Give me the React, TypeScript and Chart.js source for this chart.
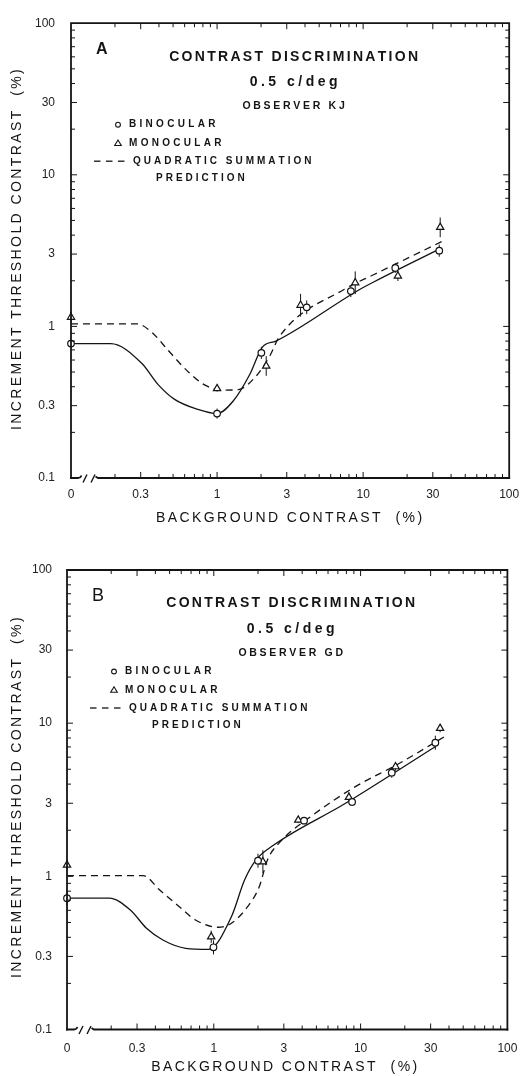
import React, { useEffect, useRef } from "react";
import { Chart, registerables } from "chart.js";

Chart.register(...registerables);

const FONT = "'Liberation Sans', Arial, Helvetica, sans-serif";
const INK = "#141414";

// ---------- axes ----------
const X_MIN = 0.1;
const X_MAX = 100;
const Y_MIN = 0.1;
const Y_MAX = 100;
const X_TICKS = [0.1, 0.3, 1, 3, 10, 30, 100];
const X_TICK_LABELS = ["0", "0.3", "1", "3", "10", "30", "100"];
const Y_TICKS = [0.1, 0.3, 1, 3, 10, 30, 100];
const Y_TICK_LABELS = ["0.1", "0.3", "1", "3", "10", "30", "100"];
const X_TITLE = "BACKGROUND CONTRAST  (%)";
const Y_TITLE = "INCREMENT THRESHOLD CONTRAST  (%)";
// background contrast 0 is plotted at the left edge of the broken log axis
const ZERO_AT = 0.1;

// ---------- panel A : observer KJ ----------
const A_BIN_X = [0, 1.0, 2.01, 4.11, 8.24, 16.6, 33.2];
const A_BIN_Y = [0.77, 0.266, 0.669, 1.336, 1.71, 2.43, 3.16];
const A_BIN_ERR = [0.026, 0.033, 0.04, 0.045, 0.04, 0.033, 0.04];
const A_MON_X = [0, 1.0, 2.17, 3.73, 8.83, 17.3, 33.7];
const A_MON_Y = [1.15, 0.389, 0.548, 1.38, 1.94, 2.15, 4.5];
const A_MON_ERR = [0.033, 0.02, 0.065, 0.075, 0.075, 0.033, 0.065];
const A_FIT_X = [0, 0.187, 0.305, 0.395, 0.512, 0.734, 1.0, 1.29, 1.67, 2.05, 2.53, 9.16, 11.9, 32.4];
const A_FIT_Y = [0.77, 0.77, 0.571, 0.413, 0.33, 0.284, 0.266, 0.322, 0.48, 0.733, 0.8, 1.72, 1.97, 3.2];
const A_PRED_X = [0, 0.283, 0.356, 0.461, 0.63, 0.815, 1.11, 1.4, 1.85, 2.3, 2.66, 7.45, 11.9, 36.5];
const A_PRED_Y = [1.04, 1.04, 0.918, 0.698, 0.505, 0.413, 0.38, 0.383, 0.47, 0.64, 0.851, 1.76, 2.2, 3.72];

// ---------- panel B : observer GD ----------
const B_BIN_X = [0, 0.995, 2.0, 4.12, 8.75, 16.3, 32.3];
const B_BIN_Y = [0.72, 0.344, 1.265, 2.31, 3.06, 4.75, 7.45];
const B_BIN_ERR = [0.046, 0.046, 0.046, 0.02, 0.026, 0.033, 0.046];
const B_MON_X = [0, 0.96, 2.16, 3.76, 8.32, 17.3, 34.8];
const B_MON_Y = [1.186, 0.403, 1.245, 2.33, 3.28, 5.2, 9.25];
const B_MON_ERR = [0.026, 0.04, 0.075, 0.02, 0.033, 0.026, 0.026];
const B_FIT_X = [0, 0.194, 0.27, 0.348, 0.45, 0.644, 0.922, 1.318, 1.62, 1.94, 2.56, 7.9, 32.2];
const B_FIT_Y = [0.72, 0.72, 0.603, 0.458, 0.384, 0.339, 0.334, 0.545, 0.946, 1.28, 1.6, 3.0, 7.02];
const B_PRED_X = [0, 0.331, 0.428, 0.582, 0.75, 1.074, 1.318, 1.7, 2.04, 2.32, 2.8, 4.7, 9.0, 18.4, 37.6];
const B_PRED_Y = [1.01, 1.01, 0.814, 0.634, 0.519, 0.465, 0.494, 0.634, 0.855, 1.28, 1.66, 2.5, 3.8, 5.47, 8.2];

const toAxis = (v: number) => (v === 0 ? ZERO_AT : v);

type Series = { x: number[]; y: number[]; err?: number[] };
type Layout = {
  top: number;
  height: number;
  padTop: number;
  padRight: number;
  yAxisWidth: number;
  xAxisHeight: number;
  xTickPad: number;
  yTickPad: number;
  xTitleDy: number;
  xTitleDx: number;
  yTitleX: number;
  yTitleDy: number;
};
type PanelSpec = {
  letter: string;
  letterFont: string;
  observer: string;
  bin: Series;
  mon: Series;
  fit: Series;
  pred: Series;
  layout: Layout;
};

const PANELS: PanelSpec[] = [
  {
    letter: "A",
    letterFont: `bold 16px ${FONT}`,
    observer: "OBSERVER KJ",
    bin: { x: A_BIN_X, y: A_BIN_Y, err: A_BIN_ERR },
    mon: { x: A_MON_X, y: A_MON_Y, err: A_MON_ERR },
    fit: { x: A_FIT_X, y: A_FIT_Y },
    pred: { x: A_PRED_X, y: A_PRED_Y },
    layout: {
      top: 0,
      height: 538,
      padTop: 17,
      padRight: 11,
      yAxisWidth: 71,
      xAxisHeight: 60,
      xTickPad: 9.8,
      yTickPad: 16,
      xTitleDy: 40,
      xTitleDx: -1,
      yTitleX: 17.5,
      yTitleDy: -1,
    },
  },
  {
    letter: "B",
    letterFont: `18px ${FONT}`,
    observer: "OBSERVER GD",
    bin: { x: B_BIN_X, y: B_BIN_Y, err: B_BIN_ERR },
    mon: { x: B_MON_X, y: B_MON_Y, err: B_MON_ERR },
    fit: { x: B_FIT_X, y: B_FIT_Y },
    pred: { x: B_PRED_X, y: B_PRED_Y },
    layout: {
      top: 538,
      height: 538,
      padTop: 32,
      padRight: 12,
      yAxisWidth: 67,
      xAxisHeight: 46.5,
      xTickPad: 11.6,
      yTickPad: 15,
      xTitleDy: 37.2,
      xTitleDx: -3,
      yTitleX: 17.5,
      yTitleDy: -2,
    },
  },
];

function drawSpaced(
  ctx: CanvasRenderingContext2D,
  text: string,
  x: number,
  y: number,
  sp: number,
  align: "left" | "center" | "right"
) {
  const chars = Array.from(text);
  const widths = chars.map((c) => ctx.measureText(c).width);
  const total = widths.reduce((a, b) => a + b, 0) + sp * (chars.length - 1);
  let cx = align === "center" ? x - total / 2 : align === "right" ? x - total : x;
  ctx.textAlign = "left";
  chars.forEach((c, i) => {
    ctx.fillText(c, cx, y);
    cx += widths[i] + sp;
  });
}

function labelFor(values: number[], labels: string[], v: number) {
  const i = values.findIndex((t) => Math.abs(t - v) < 1e-9 * Math.max(1, t));
  return i >= 0 ? labels[i] : "";
}

// inward frame ticks: 1..9 per decade
const DECADES = [0.1, 1, 10];
const MULTS = [1, 2, 3, 4, 5, 6, 7, 8, 9];

function makeDecor(p: PanelSpec) {
  const L = p.layout;
  return {
    id: "decor" + p.letter,
    beforeDatasetsDraw(chart: any) {
      const ctx: CanvasRenderingContext2D = chart.ctx;
      const xs = chart.scales.x;
      const ys = chart.scales.y;
      ctx.save();
      ctx.strokeStyle = INK;
      ctx.lineWidth = 1;
      for (const s of [p.bin, p.mon]) {
        s.x.forEach((xv, i) => {
          const px = xs.getPixelForValue(toAxis(xv));
          const f = Math.pow(10, (s.err as number[])[i]);
          const y1 = ys.getPixelForValue(s.y[i] * f);
          const y2 = ys.getPixelForValue(s.y[i] / f);
          ctx.beginPath();
          ctx.moveTo(px, y1);
          ctx.lineTo(px, y2);
          ctx.stroke();
        });
      }
      ctx.restore();
    },
    afterDraw(chart: any) {
      const ctx: CanvasRenderingContext2D = chart.ctx;
      const { left, right, top, bottom } = chart.chartArea;
      const xs = chart.scales.x;
      const ys = chart.scales.y;
      ctx.save();
      ctx.strokeStyle = INK;
      ctx.fillStyle = INK;
      ctx.setLineDash([]);

      // frame
      ctx.lineWidth = 1.8;
      ctx.beginPath();
      ctx.moveTo(left, bottom + 0.9);
      ctx.lineTo(left, top);
      ctx.lineTo(right, top);
      ctx.lineTo(right, bottom + 0.9);
      ctx.stroke();
      // bottom axis with break
      ctx.beginPath();
      ctx.moveTo(left - 0.9, bottom);
      ctx.lineTo(left + 7, bottom);
      ctx.quadraticCurveTo(left + 9.5, bottom, left + 10.5, bottom - 2.5);
      ctx.stroke();
      ctx.lineWidth = 1.4;
      for (const dx of [12, 20]) {
        ctx.beginPath();
        ctx.moveTo(left + dx, bottom + 4.5);
        ctx.lineTo(left + dx + 4, bottom - 3.5);
        ctx.stroke();
      }
      ctx.lineWidth = 1.8;
      ctx.beginPath();
      ctx.moveTo(left + 24.5, bottom - 1.5);
      ctx.lineTo(left + 27, bottom);
      ctx.lineTo(right + 0.9, bottom);
      ctx.stroke();

      // inward ticks on all four sides
      ctx.lineWidth = 1;
      const vals: number[] = [];
      DECADES.forEach((d) => MULTS.forEach((m) => vals.push(m * d)));
      for (const v of vals) {
        if (v <= 0.1 + 1e-9) continue;
        const major = Y_TICKS.some((t) => Math.abs(t - v) < 1e-9 * Math.max(1, v));
        const len = major ? 6 : 4;
        const y = ys.getPixelForValue(v);
        ctx.beginPath();
        ctx.moveTo(left, y);
        ctx.lineTo(left + len, y);
        ctx.moveTo(right, y);
        ctx.lineTo(right - len, y);
        ctx.stroke();
        const x = xs.getPixelForValue(v);
        ctx.beginPath();
        ctx.moveTo(x, bottom);
        ctx.lineTo(x, bottom - len);
        ctx.moveTo(x, top);
        ctx.lineTo(x, top + len);
        ctx.stroke();
      }

      // headers
      ctx.textBaseline = "middle";
      const cx = (left + right) / 2 + 3.5;
      ctx.font = p.letterFont;
      drawSpaced(ctx, p.letter, left + 25, top + 26, 0, "left");
      ctx.font = `bold 14px ${FONT}`;
      drawSpaced(ctx, "CONTRAST DISCRIMINATION", cx, top + 33.5, 2.3, "center");
      drawSpaced(ctx, "0.5 c/deg", cx, top + 59, 3.5, "center");
      ctx.font = `bold 10.5px ${FONT}`;
      drawSpaced(ctx, p.observer, cx, top + 83, 2.7, "center");

      // legend
      ctx.font = `bold 10px ${FONT}`;
      const mx = left + 47;
      const tx = left + 58;
      ctx.lineWidth = 1.1;
      ctx.beginPath();
      ctx.arc(mx, top + 101.5, 2.4, 0, Math.PI * 2);
      ctx.stroke();
      drawSpaced(ctx, "BINOCULAR", tx, top + 101.5, 3.3, "left");
      const ty = top + 120;
      ctx.beginPath();
      ctx.moveTo(mx, ty - 3.2);
      ctx.lineTo(mx + 3.3, ty + 2.3);
      ctx.lineTo(mx - 3.3, ty + 2.3);
      ctx.closePath();
      ctx.stroke();
      drawSpaced(ctx, "MONOCULAR", tx, ty, 3.3, "left");
      const qy = top + 138;
      ctx.lineWidth = 1.3;
      for (let k = 0; k < 3; k++) {
        ctx.beginPath();
        ctx.moveTo(left + 23 + k * 12, qy);
        ctx.lineTo(left + 29.5 + k * 12, qy);
        ctx.stroke();
      }
      drawSpaced(ctx, "QUADRATIC SUMMATION", left + 62, qy, 3.0, "left");
      drawSpaced(ctx, "PREDICTION", left + 85, top + 155, 3.0, "left");

      // axis titles
      ctx.font = `14px ${FONT}`;
      drawSpaced(ctx, X_TITLE, (left + right) / 2 + L.xTitleDx, bottom + L.xTitleDy, 2.4, "center");
      ctx.save();
      ctx.translate(L.yTitleX, (top + bottom) / 2 + L.yTitleDy);
      ctx.rotate(-Math.PI / 2);
      drawSpaced(ctx, Y_TITLE, 0, 0, 2.4, "center");
      ctx.restore();

      ctx.restore();
    },
  };
}

function buildConfig(p: PanelSpec): any {
  const L = p.layout;
  const pts = (s: Series) => s.x.map((x, i) => ({ x: toAxis(x), y: s.y[i] }));
  const tickFont = { family: FONT, size: 12 };
  return {
    type: "scatter",
    data: {
      datasets: [
        {
          type: "scatter",
          label: "Binocular",
          data: pts(p.bin),
          pointStyle: "circle",
          pointRadius: 3.3,
          pointBorderWidth: 1.2,
          pointBorderColor: INK,
          pointBackgroundColor: "#ffffff",
          clip: false,
          order: 1,
        },
        {
          type: "scatter",
          label: "Monocular",
          data: pts(p.mon),
          pointStyle: "triangle",
          pointRadius: 4.2,
          pointBorderWidth: 1.2,
          pointBorderColor: INK,
          pointBackgroundColor: "#ffffff",
          clip: false,
          order: 1,
        },
        {
          type: "line",
          label: "Binocular fit",
          data: pts(p.fit),
          borderColor: INK,
          borderWidth: 1.3,
          pointRadius: 0,
          fill: false,
          cubicInterpolationMode: "monotone",
          clip: false,
          order: 2,
        },
        {
          type: "line",
          label: "Quadratic summation prediction",
          data: pts(p.pred),
          borderColor: INK,
          borderWidth: 1.3,
          borderDash: [7, 5],
          pointRadius: 0,
          fill: false,
          cubicInterpolationMode: "monotone",
          clip: false,
          order: 2,
        },
      ],
    },
    options: {
      responsive: false,
      animation: false,
      devicePixelRatio: 1,
      events: [],
      layout: { padding: { top: L.padTop, right: L.padRight, left: 0, bottom: 0 } },
      plugins: {
        legend: { display: false },
        tooltip: { enabled: false },
        title: { display: false },
      },
      scales: {
        x: {
          type: "logarithmic",
          position: "bottom",
          min: X_MIN,
          max: X_MAX,
          grid: { display: false, drawTicks: false },
          border: { display: false },
          ticks: {
            autoSkip: false,
            maxRotation: 0,
            minRotation: 0,
            padding: L.xTickPad,
            font: tickFont,
            color: "#222",
            callback: (v: number) => labelFor(X_TICKS, X_TICK_LABELS, Number(v)),
          },
          afterBuildTicks: (s: any) => {
            s.ticks = X_TICKS.map((value) => ({ value }));
          },
          afterFit: (s: any) => {
            s.height = L.xAxisHeight;
          },
        },
        y: {
          type: "logarithmic",
          position: "left",
          min: Y_MIN,
          max: Y_MAX,
          grid: { display: false, drawTicks: false },
          border: { display: false },
          ticks: {
            autoSkip: false,
            padding: L.yTickPad,
            font: tickFont,
            color: "#222",
            callback: (v: number) => labelFor(Y_TICKS, Y_TICK_LABELS, Number(v)),
          },
          afterBuildTicks: (s: any) => {
            s.ticks = Y_TICKS.map((value) => ({ value }));
          },
          afterFit: (s: any) => {
            s.width = L.yAxisWidth;
          },
        },
      },
    },
    plugins: [makeDecor(p)],
  };
}

function Panel({ spec }: { spec: PanelSpec }) {
  const ref = useRef<HTMLCanvasElement | null>(null);
  useEffect(() => {
    if (!ref.current) return;
    const chart = new Chart(ref.current, buildConfig(spec));
    return () => chart.destroy();
  }, [spec]);
  const L = spec.layout;
  return (
    <div style={{ position: "absolute", left: 0, top: L.top, width: 529, height: L.height }}>
      <canvas ref={ref} width={529} height={L.height} style={{ display: "block", width: 529, height: L.height }} />
    </div>
  );
}

export default function App() {
  useEffect(() => {
    document.body.style.margin = "0";
    document.body.style.overflow = "hidden";
    document.body.style.background = "#ffffff";
  }, []);
  return (
    <div style={{ position: "relative", width: 529, height: 1076, overflow: "hidden", background: "#fff" }}>
      {PANELS.map((p) => (
        <Panel key={p.letter} spec={p} />
      ))}
    </div>
  );
}
